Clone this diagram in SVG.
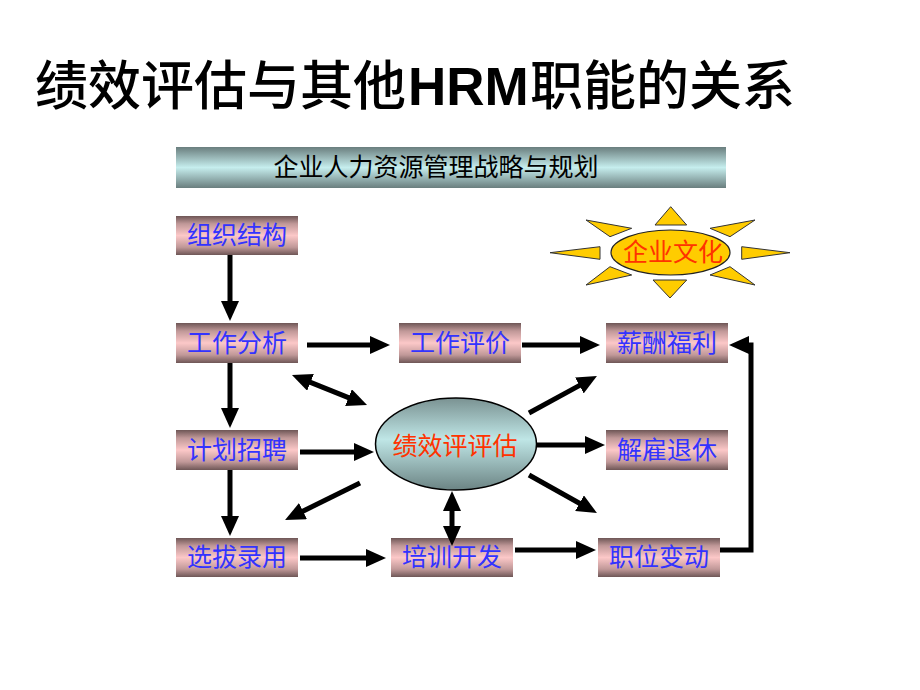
<svg xmlns="http://www.w3.org/2000/svg" width="920" height="690" viewBox="0 0 920 690">
<style>
.box{stroke:none}
.bt{font-family:"Noto Sans CJK SC","Liberation Sans",sans-serif;font-size:25px;fill:#3333FF;text-anchor:middle}
.ln{stroke:#000;stroke-width:5;fill:none}
.ray{fill:#FFCC00;stroke:#333;stroke-width:1}
</style>
<defs>
<linearGradient id="gbox" x1="0" y1="0" x2="0" y2="1">
<stop offset="0" stop-color="#6e5656"/>
<stop offset="0.2" stop-color="#c09898"/>
<stop offset="0.5" stop-color="#fcc8c8"/>
<stop offset="0.8" stop-color="#c09898"/>
<stop offset="1" stop-color="#6e5656"/>
</linearGradient>
<linearGradient id="gban" x1="0" y1="0" x2="0" y2="1">
<stop offset="0" stop-color="#6a7e7e"/>
<stop offset="0.5" stop-color="#c6eeee"/>
<stop offset="1" stop-color="#6a7e7e"/>
</linearGradient>
<linearGradient id="gell" x1="0" y1="0" x2="0" y2="1">
<stop offset="0" stop-color="#7a9292"/>
<stop offset="0.45" stop-color="#bfe6e6"/>
<stop offset="1" stop-color="#6c8484"/>
</linearGradient>
<marker id="ah" viewBox="0 0 20 18" refX="4" refY="9" markerWidth="20" markerHeight="18" markerUnits="userSpaceOnUse" orient="auto-start-reverse">
<path d="M0,0 L20,9 L0,18 z" fill="#000"/>
</marker>
</defs>
<rect width="920" height="690" fill="#fff"/>

<g id="title">
<text y="105" font-size="53" font-weight="500" fill="#000" font-family="Noto Sans CJK SC, Liberation Sans, sans-serif"><tspan x="35">绩效评估与其他</tspan><tspan x="408" font-family="Liberation Sans, Arial, sans-serif" font-weight="700">HRM</tspan><tspan x="530">职能的关系</tspan></text>
</g>

<g id="banner">
<rect x="176" y="147" width="550" height="41" fill="url(#gban)"/>
<text x="436" y="176" font-size="25" text-anchor="middle" fill="#000" font-family="Noto Sans CJK SC, sans-serif">企业人力资源管理战略与规划</text>
</g>

<g id="culture">
<polygon class="ray" points="655,225 670.7,206.7 686.7,225"/>
<polygon class="ray" points="653,280 686.7,280 670,298"/>
<polygon class="ray" points="550,252.7 600,246.7 600,259.3"/>
<polygon class="ray" points="790,252.7 741.7,246.7 741.7,259.3"/>
<polygon class="ray" points="586,220 610,236.7 631.7,228.3"/>
<polygon class="ray" points="755,220 710,228.3 730,236.7"/>
<polygon class="ray" points="586,285 610,266.7 631.7,275"/>
<polygon class="ray" points="755,285 710,275 730,266.7"/>
<ellipse cx="670.5" cy="252.5" rx="59.5" ry="22.5" fill="#FFCC00" stroke="#222" stroke-width="1.2"/>
<text x="673" y="261" font-size="25" text-anchor="middle" fill="#FF3300" font-family="Noto Sans CJK SC, sans-serif">企业文化</text>
</g>

<g id="n-zuzhi"><rect class="box" x="176" y="216" width="122" height="39" fill="url(#gbox)"/><text class="bt" x="237" y="244">组织结构</text></g>
<g id="n-gongzuofenxi"><rect class="box" x="176" y="323" width="122" height="40" fill="url(#gbox)"/><text class="bt" x="237" y="352">工作分析</text></g>
<g id="n-gongzuopingjia"><rect class="box" x="399" y="323" width="122" height="40" fill="url(#gbox)"/><text class="bt" x="460" y="352">工作评价</text></g>
<g id="n-xinchou"><rect class="box" x="606" y="323" width="122" height="40" fill="url(#gbox)"/><text class="bt" x="667" y="352">薪酬福利</text></g>
<g id="n-jihua"><rect class="box" x="176" y="430" width="122" height="40" fill="url(#gbox)"/><text class="bt" x="237" y="459">计划招聘</text></g>
<g id="n-jiegu"><rect class="box" x="606" y="430" width="122" height="40" fill="url(#gbox)"/><text class="bt" x="667" y="459">解雇退休</text></g>
<g id="n-xuanba"><rect class="box" x="176" y="538" width="122" height="39" fill="url(#gbox)"/><text class="bt" x="237" y="566">选拔录用</text></g>
<g id="n-peixun"><rect class="box" x="391" y="538" width="122" height="39" fill="url(#gbox)"/><text class="bt" x="452" y="566">培训开发</text></g>
<g id="n-zhiwei"><rect class="box" x="598" y="538" width="122" height="39" fill="url(#gbox)"/><text class="bt" x="659" y="566">职位变动</text></g>

<g id="n-jixiao">
<ellipse cx="456" cy="444" rx="80.5" ry="46" fill="url(#gell)" stroke="#000" stroke-width="1.5"/>
<text x="455" y="455" font-size="25" text-anchor="middle" fill="#FF3300" font-family="Noto Sans CJK SC, sans-serif">绩效评评估</text>
</g>

<g id="connectors">
<line class="ln" x1="230" y1="255" x2="230" y2="305" marker-end="url(#ah)"/>
<line class="ln" x1="230" y1="363" x2="230" y2="412" marker-end="url(#ah)"/>
<line class="ln" x1="230" y1="470" x2="230" y2="520" marker-end="url(#ah)"/>
<line class="ln" x1="307" y1="345" x2="374" y2="345" marker-end="url(#ah)"/>
<line class="ln" x1="522" y1="345" x2="584" y2="345" marker-end="url(#ah)"/>
<line class="ln" x1="300" y1="452" x2="358" y2="452" marker-end="url(#ah)"/>
<line class="ln" x1="537" y1="445" x2="589" y2="445" marker-end="url(#ah)"/>
<line class="ln" x1="300" y1="558" x2="370" y2="558" marker-end="url(#ah)"/>
<line class="ln" x1="515" y1="550" x2="580" y2="550" marker-end="url(#ah)"/>
<line class="ln" x1="306.8" y1="380.9" x2="352.2" y2="399.1" marker-start="url(#ah)" marker-end="url(#ah)"/>
<line class="ln" x1="529" y1="413" x2="582.9" y2="383.6" marker-end="url(#ah)"/>
<line class="ln" x1="529" y1="475" x2="583" y2="505.2" marker-end="url(#ah)"/>
<line class="ln" x1="360" y1="483" x2="299.4" y2="512.9" marker-end="url(#ah)"/>
<line class="ln" x1="452" y1="507" x2="452" y2="530" marker-start="url(#ah)" marker-end="url(#ah)"/>
<path class="ln" d="M720,550 H751 V345 H745" marker-end="url(#ah)"/>
</g>
</svg>
